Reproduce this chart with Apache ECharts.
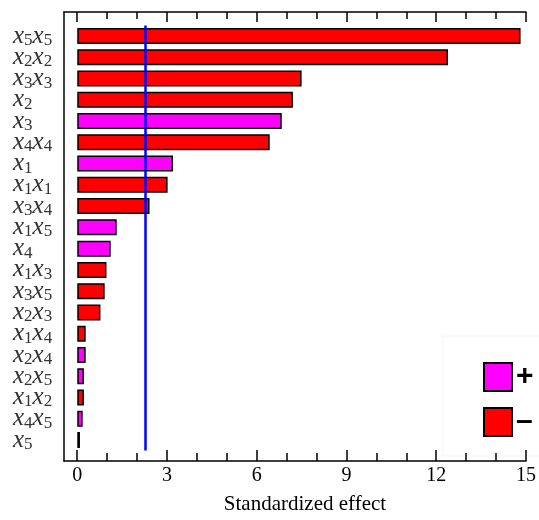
<!DOCTYPE html>
<html>
<head>
<meta charset="utf-8">
<script src="https://cdn.jsdelivr.net/npm/echarts@6/dist/echarts.min.js"></script>
<style>html,body{margin:0;padding:0;background:#fff}#c{width:539px;height:520px}</style>
</head>
<body>
<div id="c"></div>
<script>
const categories = ['x5x5','x2x2','x3x3','x2','x3','x4x4','x1','x1x1','x3x4','x1x5','x4','x1x3','x3x5','x2x3','x1x4','x2x4','x2x5','x1x2','x4x5','x5'];
const effects = [14.72,12.31,7.45,7.16,6.79,6.39,3.18,3.0,2.40,1.31,1.11,0.97,0.91,0.77,0.28,0.28,0.22,0.22,0.18,0.09];
const signs = ['-','-','-','-','+','-','+','-','-','+','+','-','-','-','-','+','+','-','+','-'];
const criticalValue = 2.27;
const majorTicks = [0,3,6,9,12,15];
const minorTicks = [1,2,4,5,7,8,10,11,13,14];
const xMin = -0.44, xMax = 15;

const posData = effects.map((v,i)=> signs[i]==='+' ? v : '-');
const negData = effects.map((v,i)=> signs[i]==='-' ? v : '-');

function fmtLabel(s){
  return s.replace(/x(\d)/g, '{x|x}{s|$1}');
}

const chart = echarts.init(document.getElementById('c'), null, {renderer:'canvas'});
const serif = 'Liberation Serif';
chart.setOption({
  backgroundColor:'#fff',
  animation:false,
  grid:[
    {left:64, right:10, top:25.4, bottom:69.4},
    {left:64, right:10, top:12, bottom:54}
  ],
  xAxis:[
    {gridIndex:0, type:'value', min:xMin, max:xMax, show:false},
    {gridIndex:1, type:'value', position:'bottom', min:xMin, max:xMax,
      axisLine:{show:true, onZero:false, lineStyle:{color:'#000', width:1.5}},
      axisTick:{show:true, inside:true, length:11, customValues:majorTicks, lineStyle:{color:'#000', width:1.5}},
      axisLabel:{show:true, customValues:majorTicks, margin:5, fontFamily:serif, fontSize:20, color:'#000'},
      splitLine:{show:false},
      name:'Standardized effect', nameLocation:'middle', nameGap:33,
      nameTextStyle:{fontFamily:serif, fontSize:21, color:'#000', padding:[0,0,0,20]}
    },
    {gridIndex:1, type:'value', position:'bottom', min:xMin, max:xMax,
      axisLine:{show:false, onZero:false},
      axisTick:{show:true, inside:true, length:8, customValues:minorTicks, lineStyle:{color:'#000', width:1.5}},
      axisLabel:{show:false}, splitLine:{show:false}
    },
    {gridIndex:1, type:'value', position:'top', min:xMin, max:xMax,
      axisLine:{show:true, onZero:false, lineStyle:{color:'#000', width:1.5}},
      axisTick:{show:true, inside:true, length:10, customValues:majorTicks, lineStyle:{color:'#000', width:1.5}},
      axisLabel:{show:false}, splitLine:{show:false}
    },
    {gridIndex:1, type:'value', position:'top', min:xMin, max:xMax,
      axisLine:{show:false, onZero:false},
      axisTick:{show:true, inside:true, length:7, customValues:minorTicks, lineStyle:{color:'#000', width:1.5}},
      axisLabel:{show:false}, splitLine:{show:false}
    }
  ],
  yAxis:[
    {gridIndex:0, type:'category', data:categories, inverse:true,
      axisLine:{show:false}, axisTick:{show:false}, splitLine:{show:false},
      axisLabel:{show:true, align:'left', margin:51, interval:0,
        formatter:(v)=>fmtLabel(v),
        rich:{
          x:{fontFamily:serif, fontStyle:'italic', fontSize:25, color:'#333'},
          s:{fontFamily:serif, fontSize:17, color:'#333', padding:[9,0,0,0]}
        }
      }
    },
    {gridIndex:1, type:'value', min:0, max:1, position:'left',
      axisLine:{show:true, onZero:false, lineStyle:{color:'#000', width:1.5}},
      axisTick:{show:false}, axisLabel:{show:false}, splitLine:{show:false}
    }
  ],
  legend:{
    data:['+','\u2013'], orient:'vertical', left:483, top:362, padding:0,
    itemWidth:28, itemHeight:28, itemGap:15, icon:'rect',
    itemStyle:{borderColor:'#000', borderWidth:2},
    textStyle:{fontFamily:'Liberation Sans', fontSize:30, fontWeight:'bold', color:'#000', padding:[0,0,0,-1]},
    selectedMode:false
  },
  graphic:[
    {type:'rect', shape:{x:443, y:336, width:100, height:120}, style:{fill:'none', stroke:'#f5f5f5', lineWidth:1}, silent:true, z:-1}
  ],
  series:[
    {name:'+', type:'bar', xAxisIndex:0, yAxisIndex:0, data:posData, barWidth:16, barGap:'-100%',
      itemStyle:{color:'#ff00ff', borderColor:'#000', borderWidth:1.5},
      markLine:{silent:true, symbol:'none', label:{show:false},
        lineStyle:{color:'#0000ff', width:2.5, type:'solid'},
        data:[{xAxis:criticalValue}]}
    },
    {name:'\u2013', type:'bar', xAxisIndex:0, yAxisIndex:0, data:negData, barWidth:16, barGap:'-100%',
      itemStyle:{color:'#ff0000', borderColor:'#000', borderWidth:1.5}
    }
  ]
});
</script>
</body>
</html>
